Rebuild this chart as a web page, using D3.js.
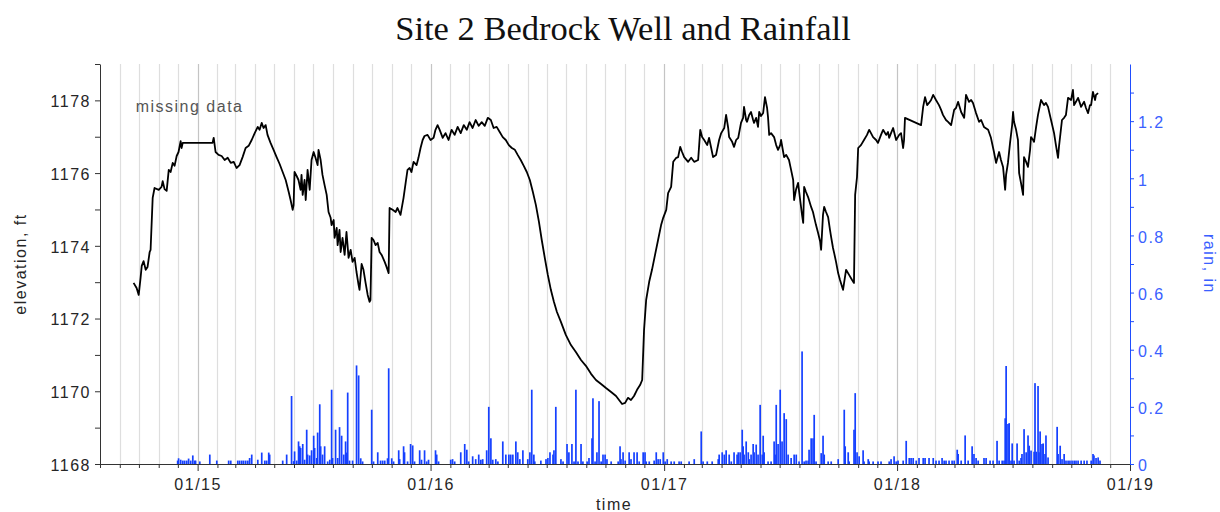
<!DOCTYPE html>
<html><head><meta charset="utf-8">
<script src="https://cdn.jsdelivr.net/npm/d3@7"></script>
<style>body{margin:0;background:#fff}svg{display:block}</style>
</head><body><svg id="chart" width="1220" height="512"></svg>
<script>
const chartTitle = "Site 2 Bedrock Well and Rainfall";
const xTitle = "time", leftTitle = "elevation, ft", rightTitle = "rain, in";
const noteText = "missing data";
const noteAt = [2014.734, 1177.68];
const timeStart = [2014, 7, 1], timeEnd = [2019, 0, 1];
const elevDomain = [1168, 1179];
const rainDomain = [0, 1.4];
const elevTicks = [1168,1169,1170,1171,1172,1173,1174,1175,1176,1177,1178,1179];
const elevLabelled = [1168,1170,1172,1174,1176,1178];
const rainTicks = [0,0.1,0.2,0.3,0.4,0.5,0.6,0.7,0.8,0.9,1,1.1,1.2,1.3];
const rainLabelled = [0,0.2,0.4,0.6,0.8,1,1.2];

// well elevation readings: [decimal year, elevation ft]
const wellLevel = [[2014.725,1172.98],[2014.738,1172.84],[2014.747,1172.65],[2014.755,1173.12],[2014.760,1173.45],[2014.768,1173.58],[2014.777,1173.34],[2014.785,1173.42],[2014.794,1173.83],[2014.798,1173.89],[2014.807,1175.32],[2014.815,1175.59],[2014.833,1175.54],[2014.845,1175.62],[2014.850,1175.78],[2014.858,1175.56],[2014.867,1175.51],[2014.876,1176.09],[2014.884,1176.03],[2014.893,1176.28],[2014.901,1176.20],[2014.910,1176.47],[2014.918,1176.58],[2014.927,1176.88],[2014.931,1176.69],[2014.936,1176.83],
[2015.064,1176.83],[2015.069,1176.97],[2015.077,1176.58],[2015.090,1176.50],[2015.103,1176.47],[2015.116,1176.36],[2015.129,1176.42],[2015.142,1176.28],[2015.155,1176.31],[2015.167,1176.14],[2015.180,1176.22],[2015.193,1176.44],[2015.206,1176.69],[2015.219,1176.75],[2015.232,1176.91],[2015.245,1177.10],[2015.258,1177.27],[2015.266,1177.19],[2015.275,1177.38],[2015.283,1177.24],[2015.292,1177.32],[2015.300,1177.05],[2015.313,1176.83],[2015.326,1176.64],[2015.339,1176.44],[2015.352,1176.25],[2015.365,1176.03],[2015.378,1175.81],[2015.391,1175.48],[2015.399,1175.26],[2015.408,1174.99],[2015.412,1175.12],[2015.416,1176.03],[2015.425,1175.92],[2015.433,1175.81],[2015.442,1175.54],[2015.446,1175.95],[2015.451,1175.40],[2015.459,1175.81],[2015.464,1175.26],[2015.472,1176.09],[2015.481,1175.54],[2015.489,1176.36],[2015.498,1176.58],[2015.506,1176.42],[2015.515,1176.22],[2015.519,1176.64],[2015.528,1176.36],[2015.536,1175.95],[2015.545,1175.67],[2015.554,1175.40],[2015.562,1174.93],[2015.571,1174.77],[2015.575,1174.57],[2015.584,1174.71],[2015.588,1174.22],[2015.597,1174.49],[2015.601,1174.02],[2015.609,1174.44],[2015.614,1173.83],[2015.622,1174.22],[2015.631,1173.75],[2015.639,1174.38],[2015.648,1173.67],[2015.657,1173.89],[2015.665,1173.56],[2015.674,1173.67],[2015.682,1173.28],[2015.691,1172.92],[2015.695,1172.79],[2015.704,1173.50],[2015.712,1173.34],[2015.721,1172.98],[2015.730,1172.65],[2015.738,1172.46],[2015.742,1172.51],[2015.747,1174.22],[2015.755,1174.16],[2015.764,1174.02],[2015.773,1174.08],[2015.781,1173.83],[2015.790,1173.75],[2015.803,1173.56],[2015.811,1173.42],[2015.820,1173.25],[2015.824,1175.04],[2015.837,1174.99],[2015.850,1174.93],[2015.858,1175.04],[2015.871,1174.85],[2015.884,1175.32],[2015.893,1175.73],[2015.901,1176.09],[2015.910,1176.14],[2015.918,1176.03],[2015.927,1176.31],[2015.940,1176.22],[2015.948,1176.42],[2015.957,1176.69],[2015.966,1176.91],[2015.974,1177.02],[2015.987,1177.05],
[2016.000,1176.91],[2016.013,1176.97],[2016.021,1177.19],[2016.030,1177.32],[2016.039,1177.19],[2016.052,1176.97],[2016.064,1177.10],[2016.077,1176.91],[2016.090,1177.19],[2016.103,1177.05],[2016.116,1177.27],[2016.129,1177.10],[2016.142,1177.32],[2016.155,1177.19],[2016.167,1177.40],[2016.180,1177.24],[2016.193,1177.46],[2016.206,1177.30],[2016.219,1177.40],[2016.232,1177.30],[2016.245,1177.52],[2016.258,1177.46],[2016.270,1177.24],[2016.283,1177.27],[2016.296,1177.13],[2016.309,1176.99],[2016.322,1176.91],[2016.335,1176.77],[2016.348,1176.69],[2016.361,1176.64],[2016.373,1176.50],[2016.386,1176.36],[2016.399,1176.20],[2016.412,1176.03],[2016.425,1175.81],[2016.438,1175.48],[2016.451,1175.12],[2016.464,1174.66],[2016.476,1174.16],[2016.489,1173.67],[2016.502,1173.20],[2016.515,1172.79],[2016.528,1172.46],[2016.541,1172.18],[2016.558,1171.91],[2016.579,1171.55],[2016.601,1171.27],[2016.622,1171.08],[2016.644,1170.86],[2016.665,1170.70],[2016.687,1170.48],[2016.708,1170.31],[2016.730,1170.20],[2016.751,1170.09],[2016.773,1169.98],[2016.794,1169.87],[2016.807,1169.76],[2016.820,1169.65],[2016.833,1169.68],[2016.845,1169.82],[2016.858,1169.76],[2016.871,1169.87],[2016.884,1170.04],[2016.897,1170.17],[2016.906,1170.31],[2016.914,1171.69],[2016.923,1172.51],[2016.936,1173.01],[2016.948,1173.34],[2016.961,1173.75],[2016.974,1174.16],[2016.987,1174.57],[2016.996,1174.77],
[2017.009,1174.99],[2017.017,1175.45],[2017.030,1175.62],[2017.039,1176.31],[2017.052,1176.42],[2017.060,1176.44],[2017.069,1176.72],[2017.077,1176.58],[2017.086,1176.44],[2017.103,1176.31],[2017.116,1176.42],[2017.129,1176.31],[2017.146,1176.36],[2017.155,1177.19],[2017.163,1176.99],[2017.172,1176.91],[2017.185,1176.77],[2017.193,1176.97],[2017.202,1176.69],[2017.210,1176.44],[2017.223,1176.50],[2017.236,1176.91],[2017.245,1177.10],[2017.258,1177.24],[2017.266,1177.60],[2017.275,1177.24],[2017.279,1176.99],[2017.292,1176.86],[2017.300,1176.72],[2017.309,1176.91],[2017.318,1176.97],[2017.330,1177.38],[2017.339,1177.52],[2017.343,1177.82],[2017.352,1177.46],[2017.356,1177.41],[2017.365,1177.60],[2017.373,1177.68],[2017.382,1177.46],[2017.386,1177.38],[2017.395,1177.52],[2017.403,1177.27],[2017.408,1177.68],[2017.416,1177.57],[2017.425,1177.65],[2017.433,1178.09],[2017.442,1177.79],[2017.446,1177.54],[2017.451,1177.05],[2017.459,1177.10],[2017.472,1176.99],[2017.481,1176.77],[2017.489,1176.64],[2017.498,1176.77],[2017.502,1176.91],[2017.511,1176.58],[2017.515,1176.44],[2017.524,1176.50],[2017.536,1176.36],[2017.545,1176.09],[2017.554,1175.81],[2017.558,1175.26],[2017.566,1175.54],[2017.575,1175.73],[2017.584,1175.26],[2017.592,1174.85],[2017.597,1174.63],[2017.601,1175.62],[2017.609,1175.48],[2017.618,1175.34],[2017.631,1175.07],[2017.639,1174.93],[2017.644,1174.79],[2017.652,1174.57],[2017.661,1174.35],[2017.670,1174.11],[2017.674,1173.89],[2017.682,1174.85],[2017.687,1175.07],[2017.695,1174.93],[2017.704,1174.79],[2017.712,1174.44],[2017.717,1174.24],[2017.725,1173.94],[2017.730,1173.80],[2017.738,1173.56],[2017.747,1173.25],[2017.755,1173.06],[2017.768,1172.79],[2017.781,1173.34],[2017.794,1173.20],[2017.807,1173.06],[2017.815,1172.98],[2017.820,1175.40],[2017.828,1175.89],[2017.833,1176.69],[2017.845,1176.77],[2017.858,1176.91],[2017.871,1177.05],[2017.880,1177.19],[2017.888,1177.10],[2017.897,1176.99],[2017.910,1176.91],[2017.918,1176.83],[2017.931,1177.05],[2017.940,1177.19],[2017.953,1177.05],[2017.961,1177.13],[2017.966,1176.97],[2017.974,1177.10],[2017.983,1177.24],[2017.996,1176.91],
[2018.009,1177.05],[2018.017,1177.10],[2018.026,1176.69],[2018.030,1176.91],[2018.034,1177.52],[2018.103,1177.32],[2018.112,1177.82],[2018.120,1178.09],[2018.129,1177.87],[2018.137,1177.93],[2018.146,1178.01],[2018.155,1178.15],[2018.167,1178.01],[2018.180,1177.87],[2018.189,1177.74],[2018.197,1177.60],[2018.210,1177.46],[2018.219,1177.41],[2018.232,1177.32],[2018.245,1177.74],[2018.253,1177.79],[2018.262,1177.96],[2018.275,1177.68],[2018.288,1177.52],[2018.296,1178.15],[2018.309,1177.96],[2018.318,1178.01],[2018.326,1177.93],[2018.339,1177.65],[2018.352,1177.41],[2018.361,1177.46],[2018.373,1177.27],[2018.391,1177.19],[2018.403,1176.97],[2018.416,1176.58],[2018.425,1176.28],[2018.438,1176.58],[2018.446,1176.36],[2018.455,1176.17],[2018.464,1175.54],[2018.468,1175.95],[2018.476,1176.28],[2018.485,1176.83],[2018.494,1177.32],[2018.498,1177.68],[2018.502,1177.41],[2018.511,1177.19],[2018.519,1176.91],[2018.524,1176.00],[2018.532,1175.73],[2018.541,1175.40],[2018.545,1176.44],[2018.554,1176.31],[2018.562,1176.17],[2018.571,1176.64],[2018.575,1176.99],[2018.584,1176.91],[2018.588,1176.86],[2018.597,1177.27],[2018.605,1177.60],[2018.618,1178.01],[2018.631,1177.87],[2018.639,1177.93],[2018.648,1177.82],[2018.661,1177.46],[2018.674,1177.10],[2018.682,1176.77],[2018.691,1176.42],[2018.695,1176.72],[2018.708,1177.46],[2018.717,1177.52],[2018.725,1177.60],[2018.734,1178.07],[2018.747,1178.01],[2018.755,1178.29],[2018.760,1177.87],[2018.768,1177.96],[2018.777,1178.07],[2018.790,1177.82],[2018.803,1177.96],[2018.811,1177.79],[2018.820,1177.65],[2018.828,1177.87],[2018.833,1177.87],[2018.841,1178.23],[2018.850,1178.01],[2018.854,1178.15],[2018.863,1178.20]];

// rainfall events: [decimal year, inches]
const rainfall = [[2014.914,0.012],[2014.918,0.02],[2014.927,0.015],[2014.936,0.012],[2014.944,0.012],[2014.953,0.012],[2014.961,0.019],[2014.970,0.012],[2014.979,0.03],[2014.987,0.012],[2014.991,0.012],[2015.009,0.009],[2015.052,0.033],[2015.082,0.012],[2015.133,0.012],[2015.142,0.012],[2015.172,0.012],[2015.180,0.012],[2015.189,0.012],[2015.197,0.012],[2015.206,0.012],[2015.215,0.012],[2015.223,0.021],[2015.232,0.033],[2015.258,0.015],[2015.275,0.04],[2015.288,0.012],[2015.296,0.012],[2015.305,0.04],[2015.309,0.033],[2015.365,0.012],[2015.382,0.033],[2015.403,0.238],[2015.412,0.01],[2015.416,0.044],[2015.425,0.012],[2015.433,0.079],[2015.438,0.062],[2015.442,0.056],[2015.451,0.07],[2015.459,0.015],[2015.468,0.12],[2015.472,0.033],[2015.481,0.03],[2015.489,0.048],[2015.498,0.099],[2015.502,0.056],[2015.511,0.021],[2015.515,0.11],[2015.524,0.209],[2015.528,0.062],[2015.536,0.033],[2015.545,0.062],[2015.558,0.009],[2015.567,0.015],[2015.575,0.26],[2015.579,0.021],[2015.592,0.12],[2015.601,0.021],[2015.609,0.129],[2015.618,0.099],[2015.627,0.033],[2015.635,0.079],[2015.639,0.04],[2015.644,0.25],[2015.652,0.012],[2015.665,0.012],[2015.682,0.345],[2015.691,0.31],[2015.700,0.02],[2015.708,0.009],[2015.747,0.19],[2015.755,0.009],[2015.773,0.041],[2015.785,0.012],[2015.794,0.012],[2015.803,0.012],[2015.815,0.02],[2015.820,0.335],[2015.833,0.02],[2015.841,0.009],[2015.863,0.048],[2015.867,0.017],[2015.884,0.062],[2015.888,0.041],[2015.901,0.009],[2015.914,0.07],[2015.923,0.065],[2015.931,0.009],[2015.953,0.048],[2015.961,0.015],[2015.974,0.048],[2015.983,0.009],[2015.991,0.015],
[2016.021,0.048],[2016.026,0.033],[2016.034,0.009],[2016.086,0.015],[2016.094,0.017],[2016.103,0.009],[2016.129,0.041],[2016.146,0.07],[2016.155,0.05],[2016.163,0.009],[2016.180,0.027],[2016.193,0.017],[2016.206,0.033],[2016.215,0.015],[2016.223,0.017],[2016.240,0.048],[2016.249,0.2],[2016.258,0.09],[2016.266,0.015],[2016.279,0.017],[2016.288,0.009],[2016.309,0.079],[2016.322,0.033],[2016.335,0.033],[2016.343,0.033],[2016.352,0.033],[2016.365,0.079],[2016.373,0.041],[2016.382,0.017],[2016.395,0.048],[2016.416,0.017],[2016.425,0.041],[2016.433,0.26],[2016.442,0.033],[2016.446,0.009],[2016.472,0.012],[2016.494,0.017],[2016.502,0.021],[2016.511,0.041],[2016.524,0.033],[2016.528,0.048],[2016.536,0.2],[2016.558,0.017],[2016.567,0.009],[2016.584,0.07],[2016.592,0.041],[2016.605,0.07],[2016.614,0.009],[2016.622,0.26],[2016.631,0.009],[2016.644,0.07],[2016.652,0.009],[2016.670,0.009],[2016.678,0.021],[2016.691,0.09],[2016.695,0.23],[2016.704,0.009],[2016.712,0.041],[2016.721,0.22],[2016.730,0.009],[2016.738,0.033],[2016.747,0.033],[2016.755,0.017],[2016.773,0.009],[2016.803,0.009],[2016.811,0.062],[2016.815,0.017],[2016.824,0.041],[2016.833,0.012],[2016.850,0.041],[2016.858,0.017],[2016.871,0.041],[2016.884,0.041],[2016.893,0.009],[2016.910,0.041],[2016.918,0.041],[2016.923,0.009],[2016.936,0.009],[2016.957,0.012],[2016.966,0.041],[2016.974,0.017],[2016.983,0.017],[2016.996,0.041],
[2017.004,0.009],[2017.013,0.017],[2017.030,0.009],[2017.043,0.009],[2017.064,0.009],[2017.073,0.009],[2017.107,0.009],[2017.129,0.017],[2017.159,0.114],[2017.167,0.009],[2017.185,0.009],[2017.206,0.009],[2017.232,0.017],[2017.236,0.033],[2017.249,0.041],[2017.258,0.033],[2017.266,0.048],[2017.279,0.033],[2017.288,0.009],[2017.300,0.041],[2017.313,0.033],[2017.318,0.041],[2017.326,0.041],[2017.335,0.12],[2017.339,0.062],[2017.343,0.033],[2017.352,0.079],[2017.361,0.041],[2017.365,0.017],[2017.373,0.033],[2017.382,0.07],[2017.386,0.041],[2017.395,0.068],[2017.403,0.033],[2017.412,0.207],[2017.421,0.033],[2017.425,0.099],[2017.429,0.041],[2017.446,0.009],[2017.459,0.009],[2017.472,0.079],[2017.476,0.033],[2017.481,0.207],[2017.489,0.07],[2017.498,0.26],[2017.506,0.079],[2017.515,0.178],[2017.524,0.157],[2017.532,0.033],[2017.545,0.021],[2017.558,0.033],[2017.567,0.033],[2017.579,0.009],[2017.592,0.394],[2017.601,0.009],[2017.609,0.012],[2017.618,0.012],[2017.622,0.05],[2017.631,0.09],[2017.639,0.09],[2017.644,0.172],[2017.652,0.009],[2017.674,0.038],[2017.682,0.099],[2017.687,0.033],[2017.704,0.009],[2017.717,0.009],[2017.747,0.017],[2017.773,0.19],[2017.777,0.062],[2017.790,0.041],[2017.794,0.009],[2017.815,0.12],[2017.820,0.248],[2017.828,0.041],[2017.837,0.027],[2017.854,0.048],[2017.858,0.009],[2017.876,0.017],[2017.880,0.009],[2017.897,0.009],[2017.918,0.009],[2017.931,0.009],[2017.966,0.009],[2017.974,0.017],[2017.987,0.027],[2017.996,0.009],
[2018.004,0.012],[2018.026,0.012],[2018.039,0.081],[2018.052,0.021],[2018.060,0.021],[2018.069,0.021],[2018.082,0.012],[2018.094,0.021],[2018.112,0.021],[2018.120,0.021],[2018.137,0.021],[2018.155,0.021],[2018.167,0.012],[2018.180,0.012],[2018.193,0.021],[2018.202,0.012],[2018.210,0.012],[2018.223,0.012],[2018.236,0.012],[2018.245,0.012],[2018.258,0.05],[2018.262,0.035],[2018.275,0.012],[2018.292,0.1],[2018.305,0.012],[2018.322,0.062],[2018.330,0.035],[2018.339,0.021],[2018.348,0.012],[2018.373,0.021],[2018.382,0.021],[2018.399,0.012],[2018.412,0.012],[2018.429,0.081],[2018.438,0.012],[2018.451,0.012],[2018.459,0.012],[2018.464,0.16],[2018.468,0.343],[2018.476,0.14],[2018.481,0.143],[2018.489,0.012],[2018.494,0.072],[2018.502,0.012],[2018.515,0.072],[2018.524,0.012],[2018.532,0.021],[2018.536,0.035],[2018.545,0.122],[2018.554,0.041],[2018.562,0.1],[2018.567,0.064],[2018.575,0.047],[2018.588,0.043],[2018.592,0.283],[2018.597,0.043],[2018.605,0.273],[2018.609,0.041],[2018.614,0.114],[2018.622,0.07],[2018.627,0.072],[2018.635,0.035],[2018.639,0.1],[2018.648,0.023],[2018.687,0.13],[2018.691,0.035],[2018.700,0.064],[2018.708,0.017],[2018.717,0.035],[2018.725,0.012],[2018.734,0.012],[2018.742,0.012],[2018.751,0.012],[2018.760,0.012],[2018.768,0.012],[2018.777,0.012],[2018.790,0.012],[2018.803,0.012],[2018.815,0.012],[2018.833,0.012],[2018.841,0.035],[2018.845,0.03],[2018.854,0.021],[2018.863,0.023],[2018.871,0.012]];

function toDate(t){
  const y = Math.floor(t);
  const s = Date.UTC(y,0,1), e = Date.UTC(y+1,0,1);
  return new Date(s + (t - y) * (e - s));
}

const m = {left:100, right:1130, top:64, bottom:464};
const svg = d3.select("#chart");
const FONT = "'Liberation Sans', Arial, sans-serif";

const x = d3.scaleUtc()
  .domain([new Date(Date.UTC(...timeStart)), new Date(Date.UTC(...timeEnd))])
  .range([m.left, m.right]);
const yL = d3.scaleLinear().domain(elevDomain).range([m.bottom, m.top]);
const yR = d3.scaleLinear().domain(rainDomain).range([m.bottom, m.top]);

const months = d3.utcMonth.range(x.domain()[0], d3.utcDay.offset(x.domain()[1], 1));

// vertical monthly grid
svg.append("g").selectAll("line")
  .data(months.filter(d => +d !== +x.domain()[0] && +d !== +x.domain()[1]))
  .join("line")
  .attr("x1", d => Math.round(x(d)) + 0.5).attr("x2", d => Math.round(x(d)) + 0.5)
  .attr("y1", m.top).attr("y2", m.bottom)
  .attr("stroke", d => d.getUTCMonth() === 0 ? "#c4c4c4" : "#dedede")
  .attr("stroke-width", 1.2);

// rain bars
svg.append("g").selectAll("rect")
  .data(rainfall)
  .join("rect")
  .attr("x", d => x(toDate(d[0])) - 0.8)
  .attr("width", 1.7)
  .attr("y", d => yR(d[1]))
  .attr("height", d => yR(0) - yR(d[1]))
  .attr("fill", "#1540ff");

// well line
svg.append("path")
  .datum(wellLevel)
  .attr("fill", "none")
  .attr("stroke", "#000")
  .attr("stroke-width", 1.8)
  .attr("stroke-linejoin", "round")
  .attr("d", d3.line().x(d => x(toDate(d[0]))).y(d => yL(d[1])));

// bottom axis
const gx = svg.append("g").attr("transform", `translate(0,${m.bottom})`)
  .call(d3.axisBottom(x).tickValues(months).tickSizeOuter(0).tickSize(4)
    .tickFormat(d => d.getUTCMonth() === 0 ? d3.utcFormat("%m/%y")(d) : ""));
gx.selectAll(".tick line").attr("y2", d => d.getUTCMonth() === 0 ? 7 : 4);
gx.selectAll(".tick text").attr("y", 15).attr("dy", "0.71em");

// left axis
const gl = svg.append("g").attr("transform", `translate(${m.left},0)`)
  .call(d3.axisLeft(yL).tickValues(elevTicks).tickSize(5).tickPadding(4).tickSizeOuter(0)
    .tickFormat(d => elevLabelled.includes(d) ? d : ""));
gl.selectAll(".tick text").attr("dy", "0.4em");

// right axis
const gr = svg.append("g").attr("transform", `translate(${m.right},0)`)
  .call(d3.axisRight(yR).tickValues(rainTicks).tickSize(4).tickPadding(4).tickSizeOuter(0)
    .tickFormat(d => rainLabelled.some(v => Math.abs(v - d) < 1e-9) ? d3.format("~g")(d) : ""));
gr.selectAll(".tick text").attr("dy", "0.42em");

[gx, gl, gr].forEach(g => g.selectAll("text")
  .attr("font-family", FONT).attr("font-size", 16).attr("letter-spacing", "1.5px"));
gx.selectAll("path,line").attr("stroke", "#333");
gl.selectAll("path,line").attr("stroke", "#333");
gx.selectAll("text").attr("fill", "#262626");
gl.selectAll("text").attr("fill", "#262626");
gr.selectAll("path,line").attr("stroke", "#1f4dff");
gr.selectAll("text").attr("fill", "#3a60ff");

// titles
svg.append("text").attr("x", 623).attr("y", 40).attr("text-anchor", "middle")
  .attr("font-family", "'Liberation Serif', 'Times New Roman', serif").attr("font-size", 34.5)
  .attr("fill", "#111").text(chartTitle);
svg.append("text").attr("x", 614).attr("y", 510).attr("text-anchor", "middle")
  .attr("font-family", FONT).attr("font-size", 16).attr("letter-spacing", "1.5px")
  .attr("fill", "#262626").text(xTitle);
svg.append("text").attr("transform", "translate(26,264) rotate(-90)").attr("text-anchor", "middle")
  .attr("font-family", FONT).attr("font-size", 16).attr("letter-spacing", "1.5px")
  .attr("fill", "#262626").text(leftTitle);
svg.append("text").attr("transform", "translate(1204,264) rotate(90)").attr("text-anchor", "middle")
  .attr("font-family", FONT).attr("font-size", 16).attr("letter-spacing", "1.5px")
  .attr("fill", "#3a60ff").text(rightTitle);
svg.append("text").attr("x", x(toDate(noteAt[0]))).attr("y", yL(noteAt[1]))
  .attr("font-family", FONT).attr("font-size", 16).attr("letter-spacing", "1.5px")
  .attr("fill", "#555").text(noteText);
</script></body></html>
